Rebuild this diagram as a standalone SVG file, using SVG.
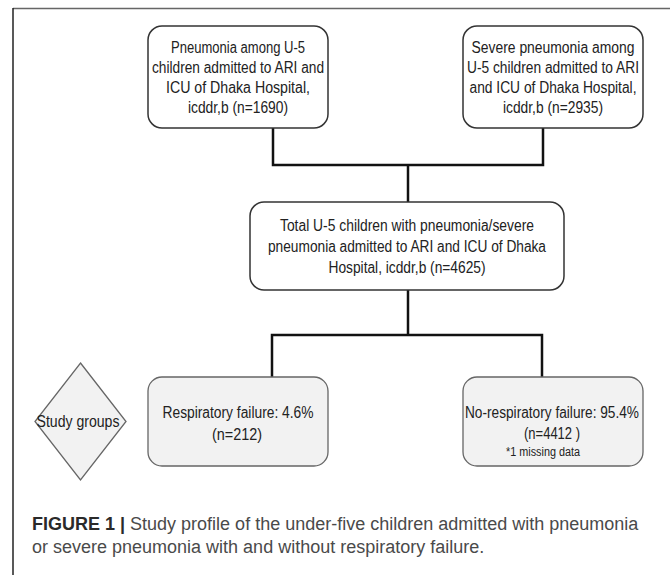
<svg xmlns="http://www.w3.org/2000/svg" width="670" height="575" viewBox="0 0 670 575">
<style>
.box{fill:#fff;stroke:#333;stroke-width:1.5}
.grp{fill:#f2f2f2;stroke:#666;stroke-width:1.3}
.t{font-family:"Liberation Sans",Arial,sans-serif;font-size:16px;fill:#222;text-anchor:middle}
.s{font-size:12px}
.cap{font-family:"Liberation Sans",Arial,sans-serif;font-size:18px;fill:#4a4a4a}
.con{fill:none;stroke:#111;stroke-width:2.5}
</style>
<rect width="670" height="575" fill="#fff"/>
<g id="frame">
<line x1="13" y1="8.5" x2="670" y2="8.5" stroke="#666" stroke-width="1.5"/>
<line x1="13" y1="8" x2="13" y2="575" stroke="#222" stroke-width="1.5"/>
</g>
<g id="connectors" class="con">
<polyline points="273,128 273,165 543,165 543,128"/>
<line x1="408" y1="165" x2="408" y2="202"/>
<line x1="408" y1="290" x2="408" y2="335"/>
<polyline points="272,377 272,335 542,335 542,377"/>
</g>
<g id="n1">
<rect class="box" x="148" y="26" width="180" height="102" rx="14"/>
<text class="t"><tspan x="238" y="53" textLength="134" lengthAdjust="spacingAndGlyphs">Pneumonia among U-5</tspan><tspan x="238" y="73" textLength="172" lengthAdjust="spacingAndGlyphs">children admitted to ARI and</tspan><tspan x="238" y="93" textLength="144" lengthAdjust="spacingAndGlyphs">ICU of Dhaka Hospital,</tspan><tspan x="238" y="113" textLength="100" lengthAdjust="spacingAndGlyphs">icddr,b (n=1690)</tspan></text>
</g>
<g id="n2">
<rect class="box" x="463" y="26" width="180" height="102" rx="14"/>
<text class="t"><tspan x="553" y="53" textLength="163" lengthAdjust="spacingAndGlyphs">Severe pneumonia among</tspan><tspan x="553" y="73" textLength="172" lengthAdjust="spacingAndGlyphs">U-5 children admitted to ARI</tspan><tspan x="553" y="93" textLength="167" lengthAdjust="spacingAndGlyphs">and ICU of Dhaka Hospital,</tspan><tspan x="553" y="113" textLength="100" lengthAdjust="spacingAndGlyphs">icddr,b (n=2935)</tspan></text>
</g>
<g id="n3">
<rect class="box" x="250" y="202" width="314" height="88" rx="14"/>
<text class="t"><tspan x="407" y="231" textLength="254" lengthAdjust="spacingAndGlyphs">Total U-5 children with pneumonia/severe</tspan><tspan x="407" y="252" textLength="278" lengthAdjust="spacingAndGlyphs">pneumonia admitted to ARI and ICU of Dhaka</tspan><tspan x="407" y="273" textLength="157" lengthAdjust="spacingAndGlyphs">Hospital, icddr,b (n=4625)</tspan></text>
</g>
<g id="n4">
<polygon class="grp" points="80.5,363 126,421.5 80.5,480 35,421.5"/>
<text class="t" x="78" y="427" textLength="83" lengthAdjust="spacingAndGlyphs">Study groups</text>
</g>
<g id="n5">
<rect class="grp" x="148" y="377" width="180" height="89" rx="14"/>
<text class="t"><tspan x="238" y="418" textLength="151" lengthAdjust="spacingAndGlyphs">Respiratory failure: 4.6%</tspan><tspan x="237" y="440" textLength="50" lengthAdjust="spacingAndGlyphs">(n=212)</tspan></text>
</g>
<g id="n6">
<rect class="grp" x="463" y="377" width="180" height="89" rx="14"/>
<text class="t"><tspan x="552" y="418" textLength="174" lengthAdjust="spacingAndGlyphs">No-respiratory failure: 95.4%</tspan><tspan x="552" y="439" textLength="56" lengthAdjust="spacingAndGlyphs">(n=4412 )</tspan><tspan class="s" x="543" y="456" textLength="74" lengthAdjust="spacingAndGlyphs">*1 missing data</tspan></text>
</g>
<g id="caption">
<text class="cap" x="32" y="530"><tspan font-weight="bold" fill="#2a2a2a">FIGURE 1 |</tspan> Study profile of the under-five children admitted with pneumonia</text>
<text class="cap" x="32" y="553">or severe pneumonia with and without respiratory failure.</text>
</g>
</svg>
